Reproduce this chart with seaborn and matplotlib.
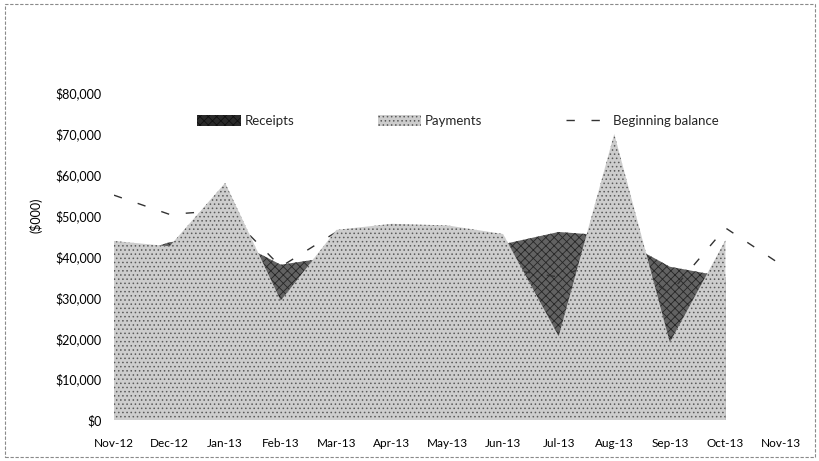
import matplotlib
matplotlib.use("Agg")
import matplotlib.pyplot as plt
from matplotlib.patches import Patch, Rectangle
from matplotlib.lines import Line2D
import seaborn as sns
import pandas as pd
import numpy as np

months = ["Nov-12", "Dec-12", "Jan-13", "Feb-13", "Mar-13", "Apr-13", "May-13",
          "Jun-13", "Jul-13", "Aug-13", "Sep-13", "Oct-13", "Nov-13"]
receipts = [39000, 43500, 45000, 38000, 40000, 42000, 41000, 43000, 46000, 45000, 37500, 35000]
payments = [43800, 42500, 58000, 29200, 46500, 48000, 47600, 45500, 20500, 70000, 19000, 44000]
balance = [55000, 50300, 51300, 37500, 46000, 45000, 41000, 37000, 35000, 40000, 31000, 47000, 38000]
ytick_values = [0, 10000, 20000, 30000, 40000, 50000, 60000, 70000, 80000]
ytick_labels = ["$0", "$10,000", "$20,000", "$30,000", "$40,000", "$50,000",
                "$60,000", "$70,000", "$80,000"]

sns.set_theme(style="white")
plt.rcParams["font.family"] = ["Lato", "DejaVu Sans"]
plt.rcParams["hatch.linewidth"] = 0.6

W, H = 820, 461
fig = plt.figure(figsize=(W / 100, H / 100), dpi=100)
ax = fig.add_axes([114 / W, 1 - 420 / H, (781 - 114) / W, (420 - 93) / H])

x_area = np.arange(len(receipts))
x_line = np.arange(len(balance))

ax.fill_between(x_area, 0, receipts, facecolor="#626262", edgecolor="#262626",
                hatch="xxxx", linewidth=0, zorder=1)
df = pd.DataFrame({"x": x_line, "balance": balance})
sns.lineplot(data=df, x="x", y="balance", ax=ax, color="#333333", linewidth=1.0,
             zorder=1.5, legend=False)
ax.lines[-1].set_dashes((6, 12))
ax.fill_between(x_area, 0, payments, facecolor="#cdcdcd", edgecolor="#5a5a5a",
                hatch="....", linewidth=0, zorder=2)

ax.set_xlim(0, len(months) - 1)
ax.set_ylim(0, 80000)
ax.set_xticks(x_line)
ax.set_xticklabels(months, fontsize=8.5, color="black")
ax.set_yticks(ytick_values)
ax.set_yticklabels(ytick_labels, fontsize=9, color="black")
ax.tick_params(axis="x", length=0, pad=13)
ax.tick_params(axis="y", length=0, pad=9)
ax.set_xlabel("")
ax.set_ylabel("")
for s in ax.spines.values():
    s.set_visible(False)
ax.grid(False)
ax.set_facecolor("none")

fig.text(36 / W, 1 - 215 / H, "($000)", rotation=90, ha="center", va="center",
         fontsize=9, color="black")

handles = [
    Patch(facecolor="#2a2a2a", edgecolor="#111111", hatch="xxxx", linewidth=0),
    Patch(facecolor="#cdcdcd", edgecolor="#5a5a5a", hatch="....", linewidth=0),
    Line2D([0], [0], color="#333333", linewidth=1.0, dashes=(6, 12)),
]
fig.legend(handles, ["Receipts", "Payments", "Beginning balance"],
           loc="center", bbox_to_anchor=(458 / W, 1 - 121 / H), ncol=3,
           frameon=False, fontsize=9.5, handlelength=3.3, handleheight=0.9,
           handletextpad=0.3, columnspacing=6.3)

fig.patches.append(Rectangle((5 / W, 4 / H), 1 - 10 / W, 1 - 8 / H,
                             transform=fig.transFigure, fill=False,
                             edgecolor="#8a8a8a", linewidth=0.8,
                             linestyle=(0, (3, 1.5))))

fig.savefig("out.png", dpi=100)
